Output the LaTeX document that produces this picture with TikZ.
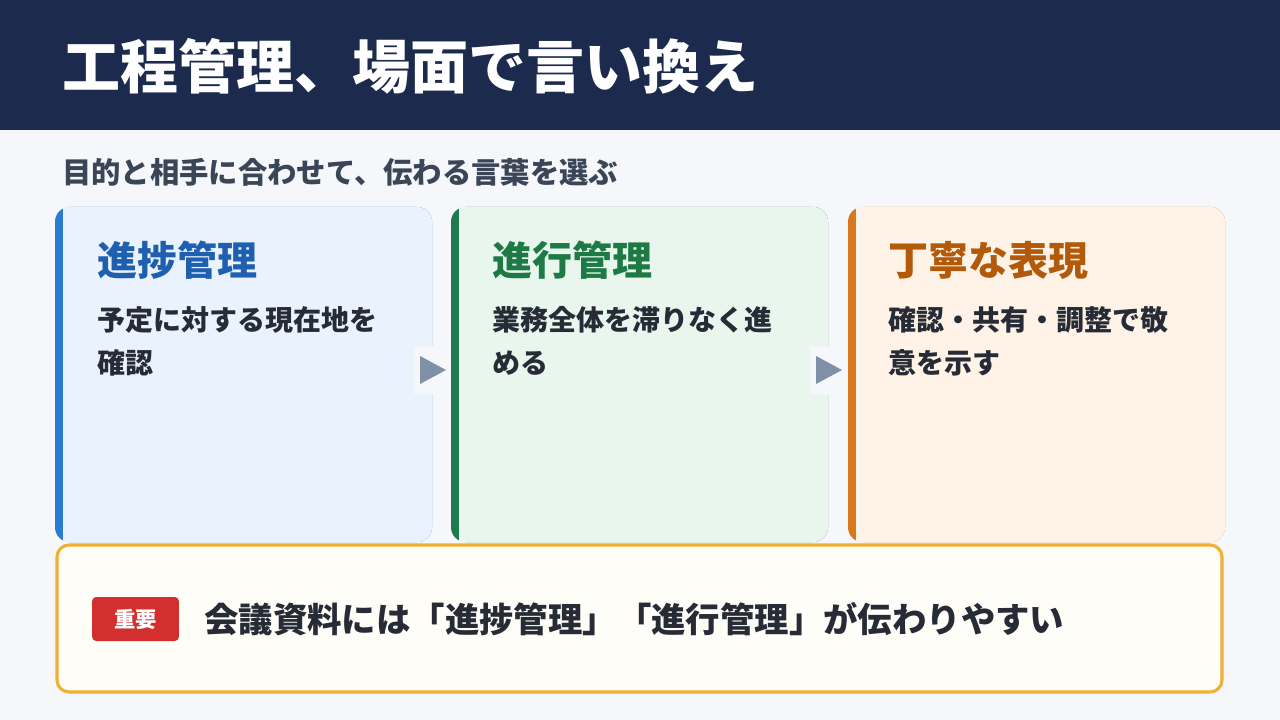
\documentclass[tikz,border=0pt]{standalone}
\usepackage{fontspec}
\setmainfont{Noto Sans CJK JP}
\usepackage{tikz}
\usetikzlibrary{positioning}
\definecolor{navy}{HTML}{1C2B4D}
\definecolor{pagebg}{HTML}{F5F7FA}
\definecolor{subgray}{HTML}{3A4558}
\definecolor{bodyink}{HTML}{262B36}
\definecolor{accA}{HTML}{2B7BD0}\definecolor{fillA}{HTML}{EAF2FD}\definecolor{headA}{HTML}{1F5FAF}
\definecolor{accB}{HTML}{1F7A4F}\definecolor{fillB}{HTML}{E8F6EE}\definecolor{headB}{HTML}{1E7A45}
\definecolor{accC}{HTML}{D9771E}\definecolor{fillC}{HTML}{FEF3E6}\definecolor{headC}{HTML}{B35A0A}
\definecolor{arrowgray}{HTML}{8090A8}
\definecolor{notefill}{HTML}{FFFDF7}
\definecolor{noteline}{HTML}{F0B030}
\definecolor{badge}{HTML}{D32F2F}
\tikzset{
  cardtitle/.style={anchor=west,inner sep=0pt,font=\fontsize{30}{36}\selectfont\bfseries},
  cardbody/.style={anchor=north west,inner sep=0pt,align=left,text=bodyink,
    font=\fontsize{21}{32.5}\selectfont\bfseries},
  steptip/.style={fill=arrowgray,draw=none}
}
\begin{document}
\begin{tikzpicture}[x=0.75pt,y=-0.75pt]
  \useasboundingbox (0,0) rectangle (1280,720);
  \fill[pagebg] (0,0) rectangle (1280,720);
  % header
  \fill[navy] (0,0) rectangle (1280,130);
  \node[anchor=west,inner sep=0pt,text=white,font=\fontsize{43.5}{50}\selectfont\bfseries]
    (title) at (62,66) {工程管理、場面で言い換え};
  \node[anchor=west,inner sep=0pt,text=subgray,font=\fontsize{22}{26}\selectfont\bfseries]
    (sub) at (62,172) {目的と相手に合わせて、伝わる言葉を選ぶ};
  % cards
  \foreach \x/\c in {55/A,451/B,848/C}{
    \fill[acc\c,rounded corners=11pt] (\x,207) rectangle (\x+377,542);
    \fill[fill\c,rounded corners=11pt] (\x+8,207) rectangle (\x+377,542);
    \fill[fill\c] (\x+8,207) rectangle (\x+20,542);
  }
  \node[cardtitle,text=headA] (tA) at (97,260) {進捗管理};
  \node[cardbody] (bA) at (97,306) {予定に対する現在地を\\確認};
  \node[cardtitle,text=headB] (tB) at (492,260) {進行管理};
  \node[cardbody] (bB) at (492,306) {業務全体を滞りなく進\\める};
  \node[cardtitle,text=headC] (tC) at (888,260) {丁寧な表現};
  \node[cardbody] (bC) at (888,306) {確認・共有・調整で敬\\意を示す};
  % step arrows
  \foreach \x in {414,810}{
    \fill[pagebg] (\x,346) rectangle (\x+34,394);
    \fill[steptip] (\x+6,356) -- (\x+32,370) -- (\x+6,384) -- cycle;
  }
  % note
  \draw[noteline,fill=notefill,line width=2.3pt,rounded corners=9pt] (57,545) rectangle (1222,692);
  \node[fill=badge,rounded corners=3pt,minimum width=65pt,minimum height=33pt,inner sep=0pt,
    text=white,font=\fontsize{16}{19}\selectfont\bfseries] (tag) at (135.5,619) {重要};
  \node[anchor=west,inner sep=0pt,text=bodyink,font=\fontsize{25.8}{30}\selectfont\bfseries]
    (note) at (204,619) {会議資料には「進捗管理」「進行管理」が伝わりやすい};
\end{tikzpicture}
\end{document}
